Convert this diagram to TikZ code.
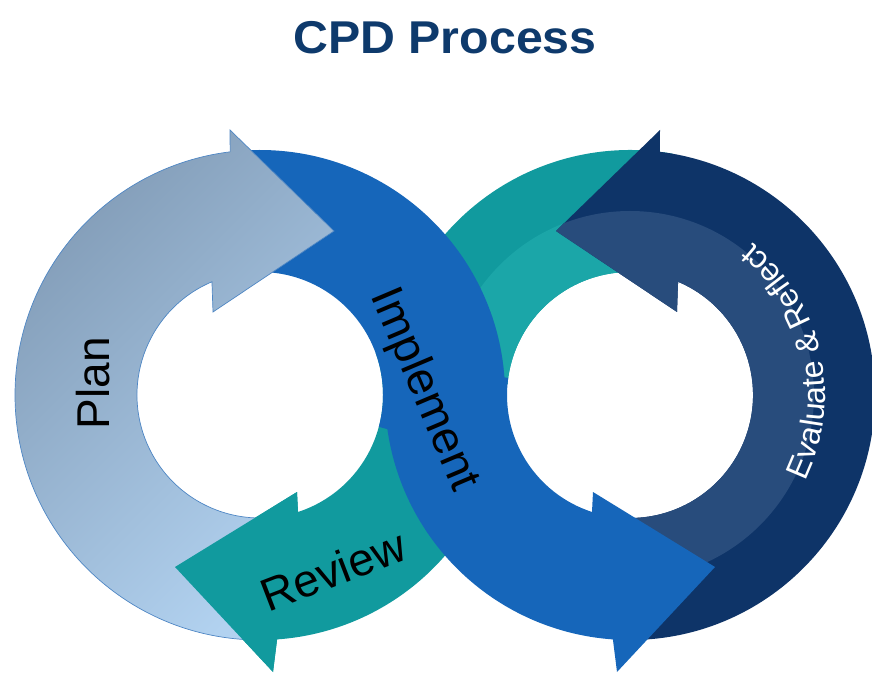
\documentclass[tikz,border=0pt]{standalone}
\usepackage{fontspec}
\setmainfont{Liberation Sans}
\usepackage{graphicx}
\usetikzlibrary{calc, decorations.text}

\definecolor{titleNavy}{RGB}{14,58,108}
\definecolor{planDark}{RGB}{130,156,183}
\definecolor{planLight}{RGB}{178,210,240}
\definecolor{planEdge}{RGB}{78,134,196}
\definecolor{implBlue}{RGB}{22,102,186}
\definecolor{reviewTeal}{RGB}{17,154,158}
\definecolor{tealLight}{RGB}{27,166,168}
\definecolor{evalNavy}{RGB}{14,52,104}
\definecolor{evalLight}{RGB}{40,76,124}

\newcommand\erfont{\fontsize{32}{32}\selectfont}

\begin{document}
\begin{tikzpicture}[x=1pt, y=1pt,
    planarrow/.style={draw=planEdge, line width=0.7pt, top color=planDark, bottom color=planLight, shading angle=45},
    implarrow/.style={fill=implBlue},
    reviewarrow/.style={fill=reviewTeal},
    evalarrow/.style={fill=evalNavy},
    steplabel/.style={font=\fontsize{46}{46}\selectfont, inner sep=0pt},
    titlelabel/.style={font=\fontsize{46}{50}\selectfont\bfseries, text=titleNavy}
]
\useasboundingbox (0,0) rectangle (872,675);

% ring centres
\coordinate (L) at (260,280);
\coordinate (R) at (630,280);

% Title
\node[titlelabel] (title) at (445,637) {\scalebox{1.05}[1]{CPD Process}};

% Review: teal band, right ring part (under Evaluate and Implement)
\fill[reviewarrow, path picture={\fill[tealLight] (R) circle[radius=184pt];}]
    ($(R)+(80:245pt)$) arc[start angle=80, end angle=175, radius=245pt]
    -- ($(R)+(175:123pt)$) arc[start angle=175, end angle=80, radius=123pt] -- cycle;

% Review: left ring part with head
\fill[reviewarrow]
    ($(L)+(20:245pt)$) arc[start angle=20, end angle=-86, radius=245pt]
    -- ($(L)+(13,-277)$) -- ($(L)+(-85,-172)$) -- ($(L)+(37,-97)$)
    -- ($(L)+(-72:123pt)$) arc[start angle=-72, end angle=20, radius=123pt] -- cycle;

% Evaluate & Reflect
\fill[evalarrow, path picture={\fill[evalLight] (R) circle[radius=184pt];}]
    ($(R)+(-90:245pt)$) arc[start angle=-90, end angle=83, radius=245pt]
    -- ($(R)+(30,265)$) -- ($(R)+(-74,164)$) -- ($(R)+(47,83)$)
    -- ($(R)+(67:123pt)$) arc[start angle=67, end angle=-90, radius=123pt] -- cycle;

% Implement: left half
\fill[implarrow]
    ($(L)+(95:245pt)$) arc[start angle=95, end angle=-15, radius=245pt]
    -- ($(L)+(-15:123pt)$) arc[start angle=-15, end angle=95, radius=123pt] -- cycle;

% Implement: right half with head
\fill[implarrow]
    ($(R)+(172:245pt)$) arc[start angle=172, end angle=266, radius=245pt]
    -- ($(R)+(-13,-277)$) -- ($(R)+(85,-172)$) -- ($(R)+(-37,-97)$)
    -- ($(R)+(252:123pt)$) arc[start angle=252, end angle=172, radius=123pt] -- cycle;

% Plan
\path[planarrow]
    ($(L)+(270:245pt)$) arc[start angle=270, end angle=97, radius=245pt]
    -- ($(L)+(-30,265)$) -- ($(L)+(74,164)$) -- ($(L)+(-47,83)$)
    -- ($(L)+(113:123pt)$) arc[start angle=113, end angle=270, radius=123pt] -- cycle;

% Review head again, over the tail of Plan
\fill[reviewarrow]
    ($(L)+(-86:245pt)$) -- ($(L)+(13,-277)$) -- ($(L)+(-85,-172)$)
    -- ($(L)+(37,-97)$) -- ($(L)+(-72:123pt)$) -- cycle;

% Labels
\node[steplabel, rotate=90] (plan) at (93,292) {Plan};
\node[steplabel, rotate=-67] (implement) at (423,285) {Implement};
\node[steplabel, rotate=21] (review) at (333,105) {Review};
\path[decorate, decoration={text along path, text align=center, text color=white,
    text={|\erfont|Evaluate {\&} Reflect}}]
    ($(R)+(-47:195pt)$) arc[start angle=-47, end angle=72, radius=195pt];

\end{tikzpicture}
\end{document}
